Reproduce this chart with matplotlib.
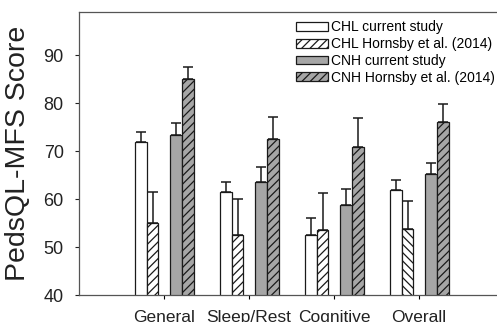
import numpy as np
import matplotlib as mp
from matplotlib import pyplot as plt

plt.rcParams['font.family'] = ['Liberation Sans', 'DejaVu Sans']
plt.rcParams['hatch.linewidth'] = 0.9

categories = ["General", "Sleep/Rest", "Cognitive", "Overall"]
series_labels = ["CHL current study", "CHL Hornsby et al. (2014)",
                 "CNH current study", "CNH Hornsby et al. (2014)"]

chl_current = [71.8, 61.4, 52.6, 61.9]
chl_current_err = [2.2, 2.2, 3.4, 2.1]
chl_hornsby = [55.1, 52.6, 53.5, 53.7]
chl_hornsby_err = [6.4, 7.5, 7.7, 5.9]
cnh_current = [73.4, 63.6, 58.7, 65.3]
cnh_current_err = [2.5, 3.1, 3.3, 2.3]
cnh_hornsby = [85.0, 72.6, 70.9, 76.1]
cnh_hornsby_err = [2.6, 4.5, 6.1, 3.8]

W, H = 497, 322
fig = plt.figure(figsize=(W / 100, H / 100), dpi=100)
ax = fig.add_axes([79 / W, 27 / H, 425 / W, 283 / H])

x = np.arange(1, len(categories) + 1)
width = 0.14
offsets = [-0.275, -0.135, 0.14, 0.28]
grey = "#a6a6a6"
edge = "#1a1a1a"

series = [
    (chl_current, chl_current_err, "white", ""),
    (chl_hornsby, chl_hornsby_err, "white", "////"),
    (cnh_current, cnh_current_err, grey, ""),
    (cnh_hornsby, cnh_hornsby_err, grey, "////"),
]

handles = []
for (vals, errs, fc, hatch), off, lab in zip(series, offsets, series_labels):
    bars = ax.bar(x + off, vals, width, bottom=0, color=fc, edgecolor=edge,
                  linewidth=0.9, hatch=hatch, label=lab, zorder=2)
    handles.append(bars)
    ax.errorbar(x + off, vals, yerr=[np.zeros(len(errs)), errs], fmt='none',
                ecolor=edge, elinewidth=1.1, capsize=3.5, capthick=1.1, zorder=3)

# the Overall CHL Hornsby bar is hatched the other way in the original
handles[1].patches[3].set_hatch("\\\\\\\\")

ax.set_xlim(0, 5)
ax.set_ylim(40, 99)
ax.set_yticks([40, 50, 60, 70, 80, 90])
ax.set_xticks(x)
ax.set_xticklabels(categories, fontsize=12.5, color="#222222")
ax.tick_params(axis='y', labelsize=13, colors="#222222", length=3, pad=8, width=0.8)
ax.tick_params(axis='x', length=3, pad=7.5, width=0.8)

for s in ["left", "bottom", "top"]:
    ax.spines[s].set_color("#555555")
    ax.spines[s].set_linewidth(0.9)
ax.spines["right"].set_visible(False)

ax.set_ylabel("PedsQL-MFS Score", fontsize=20.5, color="#222222", labelpad=9)

ax.legend(handles=handles, loc='upper left', bbox_to_anchor=(0.491, 1.0),
          frameon=False, fontsize=10, handlelength=2.3, handleheight=0.6,
          handletextpad=0.22, labelspacing=0.2, borderaxespad=0.2)

plt.savefig("out.png", dpi=100)
